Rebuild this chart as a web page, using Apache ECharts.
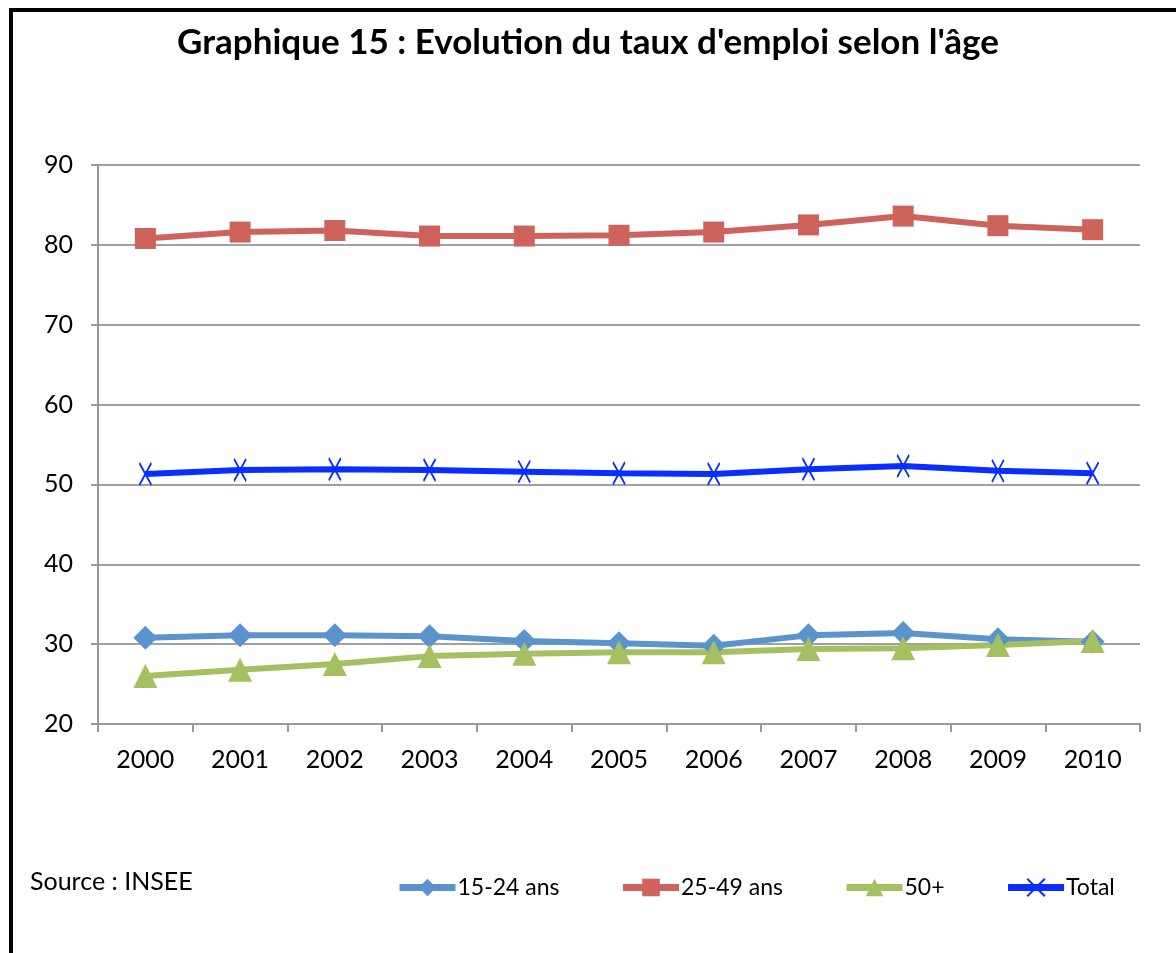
<!DOCTYPE html>
<html lang="fr">
<head>
  <meta charset="UTF-8" />
  <title>Graphique 15 : Evolution du taux d'emploi selon l'âge</title>
  <script src="https://cdn.jsdelivr.net/npm/echarts@6.0.0/dist/echarts.min.js"></script>
  <style>
    * { margin: 0; padding: 0; box-sizing: border-box; }
    body { background: #fff; width: 1176px; height: 953px; overflow: hidden; }
    .frame {
      position: absolute; left: 9px; top: 8px; width: 1200px; height: 1000px;
      border-top: 4px solid #000; border-left: 4px solid #000;
    }
    #chart { position: absolute; left: 0; top: 0; width: 1176px; height: 953px; }
  </style>
</head>
<body>
  <div class="frame"></div>
  <div id="chart"></div>
  <script>
    const years = ['2000', '2001', '2002', '2003', '2004', '2005', '2006', '2007', '2008', '2009', '2010'];
    const jeunes = [30.8, 31.1, 31.1, 31.0, 30.4, 30.1, 29.8, 31.1, 31.4, 30.6, 30.3];
    const adultes = [80.8, 81.6, 81.8, 81.1, 81.1, 81.2, 81.6, 82.5, 83.6, 82.4, 81.9];
    const seniors = [26.0, 26.8, 27.5, 28.5, 28.8, 29.0, 29.0, 29.4, 29.5, 29.9, 30.4];
    const total = [51.3, 51.8, 51.9, 51.8, 51.6, 51.4, 51.3, 51.9, 52.3, 51.7, 51.4];

    const font = 'Lato, "Open Sans", sans-serif';
    const cross = 'path://M0,0L10,20M10,0L0,20';

    const chart = echarts.init(document.getElementById('chart'));

    const serie = (name, data, color, symbol, size, extra) => Object.assign({
      name, type: 'line', data,
      symbol, symbolSize: size,
      lineStyle: { color, width: 6 },
      itemStyle: { color },
      animation: false
    }, extra || {});

    chart.setOption({
      title: {
        text: "Graphique 15 : Evolution du taux d'emploi selon l'âge",
        left: 'center', top: 20,
        textStyle: { fontFamily: font, fontSize: 35, fontWeight: 'bold', color: '#000' }
      },
      graphic: [{
        type: 'text', left: 30, top: 869,
        style: { text: 'Source : INSEE', font: '25px ' + font, fill: '#000' }
      }],
      legend: {
        left: 391, top: 871, itemWidth: 56, itemHeight: 22, itemGap: 60,
        lineStyle: { width: 7 },
        textStyle: { fontFamily: font, fontSize: 23, color: '#000', padding: [0, 0, 0, -3] },
        data: ['15-24 ans', '25-49 ans', '50+', 'Total']
      },
      grid: { left: 98, right: 36, top: 165, bottom: 229 },
      xAxis: {
        type: 'category', data: years, boundaryGap: true,
        axisLine: { lineStyle: { color: '#999', width: 2 } },
        axisTick: { show: true, length: 8, lineStyle: { color: '#999', width: 2 } },
        axisLabel: { fontFamily: font, fontSize: 25, color: '#000', margin: 23 }
      },
      yAxis: {
        type: 'value', min: 20, max: 90, interval: 10,
        axisLine: { show: true, lineStyle: { color: '#999', width: 2 } },
        axisTick: { show: true, length: 7, lineStyle: { color: '#999', width: 2 } },
        axisLabel: { fontFamily: font, fontSize: 25, color: '#000', margin: 25 },
        splitLine: { lineStyle: { color: '#a0a0a0', width: 2 } }
      },
      series: [
        serie('15-24 ans', jeunes, '#5B93CC', 'diamond', 24),
        serie('25-49 ans', adultes, '#CD635B', 'rect', 21),
        serie('50+', seniors, '#A5C060', 'triangle', 24),
        serie('Total', total, '#0A2EFF', cross, [12, 22], {
          itemStyle: { color: '#0A2EFF', borderColor: '#0A2EFF', borderWidth: 2 }
        })
      ]
    });
  </script>
</body>
</html>
